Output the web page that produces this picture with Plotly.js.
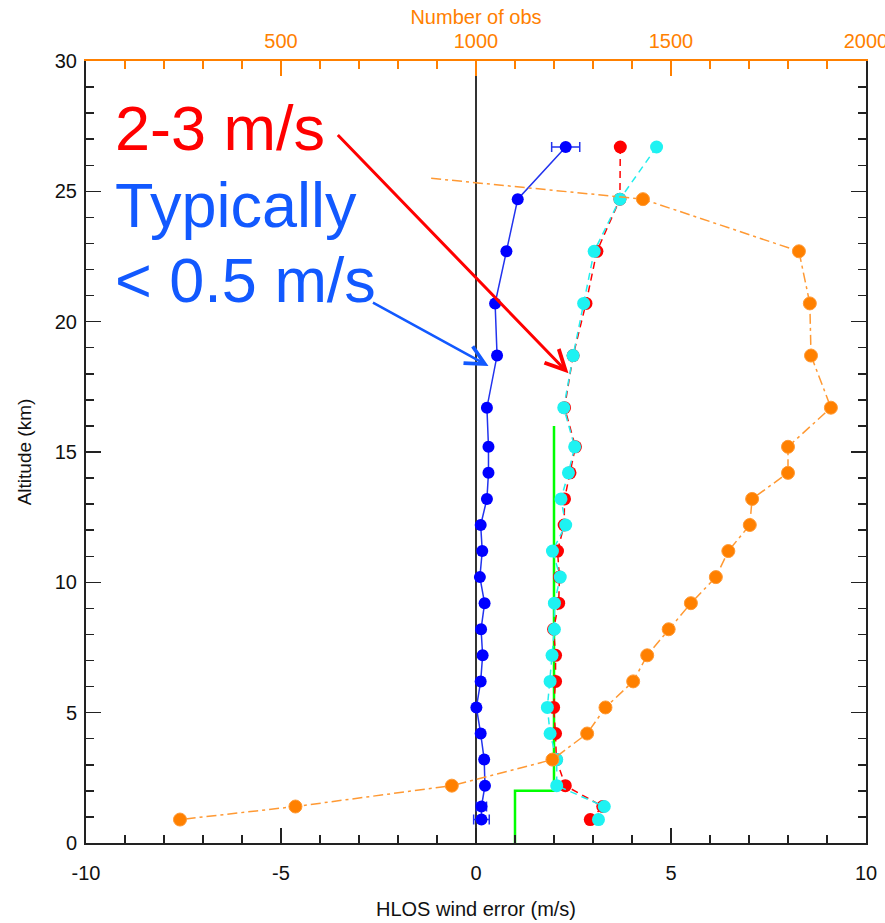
<!DOCTYPE html>
<html>
<head>
<meta charset="utf-8">
<script src="https://cdn.plot.ly/plotly-3.0.1.min.js"></script>
<style>html,body{margin:0;padding:0;background:#fff;}#chart{width:885px;height:923px;}</style>
</head>
<body>
<div id="chart"></div>
<script>
// Altitude levels (km)
var altitude = [26.7, 24.7, 22.7, 20.7, 18.7, 16.7, 15.2, 14.2, 13.2, 12.2, 11.2, 10.2, 9.2, 8.2, 7.2, 6.2, 5.2, 4.2, 3.2, 2.2, 1.4, 0.9];
// Mean HLOS wind error (bias) m/s
var biasMean = [2.30, 1.07, 0.78, 0.49, 0.54, 0.28, 0.32, 0.32, 0.28, 0.12, 0.16, 0.10, 0.22, 0.13, 0.17, 0.12, 0.01, 0.12, 0.21, 0.23, 0.14, 0.14];
var biasErr  = [0.36, 0.06, 0.06, 0.06, 0.06, 0.06, 0.06, 0.06, 0.06, 0.06, 0.06, 0.06, 0.06, 0.06, 0.06, 0.06, 0.06, 0.06, 0.06, 0.06, 0.13, 0.20];
// Std dev (red) and second std estimate (cyan)
var stdRed  = [3.70, 3.69, 3.10, 2.82, 2.49, 2.27, 2.55, 2.41, 2.27, 2.26, 2.09, 2.14, 2.12, 1.99, 2.04, 2.04, 1.99, 2.04, 2.06, 2.29, 3.25, 2.93];
var stdCyan = [4.63, 3.69, 3.03, 2.76, 2.49, 2.25, 2.53, 2.37, 2.18, 2.30, 1.96, 2.16, 2.01, 2.01, 1.95, 1.90, 1.83, 1.90, 2.07, 2.07, 3.29, 3.14];
// Number of observations (top axis)
var obsAltitude = [25.5, 24.7, 22.7, 20.7, 18.7, 16.7, 15.2, 14.2, 13.2, 12.2, 11.2, 10.2, 9.2, 8.2, 7.2, 6.2, 5.2, 4.2, 3.2, 2.2, 1.4, 0.9];
var numObs = [885, 1428, 1828, 1856, 1859, 1910, 1800, 1800, 1708, 1702, 1647, 1615, 1551, 1494, 1439, 1403, 1332, 1285, 1196, 938, 537, 241];
var obsMarkerSize = [0, 13, 13, 13, 13, 13, 13, 13, 13, 13, 13, 13, 13, 13, 13, 13, 13, 13, 13, 13, 13, 13];
// Requirement (green step line)
var reqX = [1, 1, 2, 2];
var reqY = [0, 2, 2, 16];
// Zero reference
var zeroX = [0, 0];
var zeroY = [0, 30];
// Tick labels
var xTickVals = [-10, -5, 0, 5, 10];
var xTickText = ['-10', '-5', '0', '5', '10'];
var obsTickVals = [0, 500, 1000, 1500, 2000];
var obsTickText = ['', '500', '1000', '1500', '2000'];

var FONT = 'Liberation Sans, Arial, Helvetica, sans-serif';
var ORANGE = '#ff8000';
var BLUE = '#0000ff';
var TEXTBLUE = '#1259ff';

var traces = [
  {x: reqX, y: reqY, type: 'scatter', mode: 'lines', line: {color: '#00ff00', width: 2.5}, hoverinfo: 'skip'},
  {x: zeroX, y: zeroY, type: 'scatter', mode: 'lines', line: {color: '#333333', width: 2}, hoverinfo: 'skip'},
  {x: stdRed, y: altitude, type: 'scatter', mode: 'lines+markers',
   line: {color: '#ff0000', width: 1.5, dash: '7px,5px'}, marker: {color: '#ff0000', size: 13, opacity: 1}},
  {x: stdCyan, y: altitude, type: 'scatter', mode: 'lines+markers',
   line: {color: '#22eeee', width: 1.5, dash: '7px,5px'}, marker: {color: '#1ef2f2', size: 13, opacity: 1}},
  {x: biasMean, y: altitude, type: 'scatter', mode: 'lines+markers',
   line: {color: '#2233ee', width: 1.5}, marker: {color: BLUE, size: 12, opacity: 1},
   error_x: {type: 'data', array: biasErr, color: '#2233ee', thickness: 1.5, width: 5}},
  {x: numObs, y: obsAltitude, xaxis: 'x2', type: 'scatter', mode: 'lines+markers',
   line: {color: '#ff9933', width: 1.5, dash: '10px,4px,3px,4px'},
   marker: {color: ORANGE, size: obsMarkerSize, opacity: 1}}
];

var layout = {
  width: 885, height: 923,
  margin: {l: 86, r: 19, t: 61, b: 80},
  paper_bgcolor: '#fff', plot_bgcolor: '#fff',
  showlegend: false,
  font: {family: FONT, color: '#111'},
  xaxis: {
    range: [-10, 10], tickmode: 'array', tickvals: xTickVals, ticktext: xTickText,
    ticks: 'inside', ticklen: 15, tickwidth: 1.5, tickcolor: '#222',
    minor: {tickmode: 'linear', tick0: 0, dtick: 1, ticks: 'inside', ticklen: 8, tickwidth: 1.5, tickcolor: '#222'},
    showline: true, linecolor: '#222', linewidth: 2, mirror: false,
    showgrid: false, zeroline: false,
    tickfont: {size: 20, family: FONT, color: '#111'},
    ticklabelstandoff: 11, ticklabeloverflow: 'allow',
    title: {text: 'HLOS wind error (m/s)', font: {size: 20, family: FONT, color: '#111'}, standoff: 19}
  },
  xaxis2: {
    overlaying: 'x', side: 'top', anchor: 'y',
    range: [0, 2000], tickmode: 'array', tickvals: obsTickVals, ticktext: obsTickText,
    ticks: 'inside', ticklen: 15, tickwidth: 1.5, tickcolor: ORANGE,
    minor: {tickmode: 'linear', tick0: 0, dtick: 100, ticks: 'inside', ticklen: 8, tickwidth: 1.5, tickcolor: ORANGE},
    showline: true, linecolor: ORANGE, linewidth: 2,
    showgrid: false, zeroline: false,
    tickfont: {size: 20, family: FONT, color: ORANGE},
    ticklabelstandoff: 3, ticklabeloverflow: 'allow',
    title: {text: 'Number of obs', font: {size: 20, family: FONT, color: ORANGE}, standoff: 0}
  },
  yaxis: {
    range: [0, 30], dtick: 5,
    ticks: 'inside', ticklen: 15, tickwidth: 1.5, tickcolor: '#222',
    minor: {dtick: 1, ticks: 'inside', ticklen: 8, tickwidth: 1.5, tickcolor: '#222'},
    showline: true, linecolor: '#222', linewidth: 2, mirror: 'ticks',
    showgrid: false, zeroline: false,
    tickfont: {size: 20, family: FONT, color: '#111'},
    ticklabelstandoff: 3,
    title: {text: 'Altitude (km)', font: {size: 19, family: FONT, color: '#111'}, standoff: 18}
  },
  annotations: [
    {xref: 'x', yref: 'y', x: -9.3, y: 27.42, xanchor: 'left', yanchor: 'middle', showarrow: false,
     text: '2-3 m/s', font: {size: 63, family: FONT, color: '#ff0000'}},
    {xref: 'x', yref: 'y', x: -9.3, y: 24.47, xanchor: 'left', yanchor: 'middle', showarrow: false,
     text: 'Typically', font: {size: 63, family: FONT, color: TEXTBLUE}},
    {xref: 'x', yref: 'y', x: -9.3, y: 21.59, xanchor: 'left', yanchor: 'middle', showarrow: false,
     text: '&lt; 0.5 m/s', font: {size: 63, family: FONT, color: TEXTBLUE}},
    {xref: 'x', yref: 'y', x: 2.37, y: 18.02, axref: 'x', ayref: 'y', ax: -3.58, ay: 27.22,
     text: '', showarrow: true, arrowhead: 5, arrowsize: 1.3, arrowwidth: 3, arrowcolor: '#ff0000', standoff: 0, startstandoff: 0},
    {xref: 'x', yref: 'y', x: 0.32, y: 18.30, axref: 'x', ayref: 'y', ax: -2.68, ay: 20.76,
     text: '', showarrow: true, arrowhead: 5, arrowsize: 1.5, arrowwidth: 2.5, arrowcolor: TEXTBLUE, standoff: 0, startstandoff: 0}
  ]
};

Plotly.newPlot('chart', traces, layout, {displayModeBar: false, staticPlot: true});
</script>
</body>
</html>
